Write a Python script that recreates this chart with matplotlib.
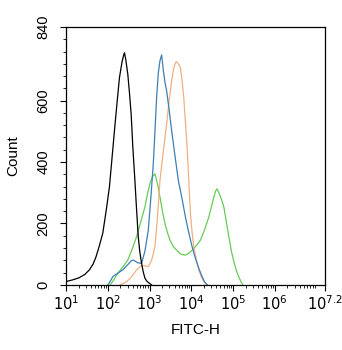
import numpy as np
import matplotlib
matplotlib.use('Agg')
import matplotlib.pyplot as plt
from matplotlib.ticker import FixedLocator, NullFormatter, MultipleLocator

plt.rcParams['font.family'] = ['Liberation Sans', 'DejaVu Sans']

# log10(FITC-H) positions and counts
black_x = [1.0, 1.15, 1.31, 1.45, 1.56, 1.65, 1.72, 1.80, 1.88, 1.96, 2.04, 2.10, 2.16, 2.22, 2.28, 2.34, 2.38, 2.40,
           2.43, 2.48, 2.52, 2.56, 2.60, 2.65, 2.69, 2.73, 2.77, 2.81, 2.85, 2.89, 2.93, 2.97, 3.05]
black_y = [11, 16, 23, 34, 49, 68, 92, 128, 168, 240, 319, 410, 502, 590, 675, 725, 748, 756,
           735, 686, 625, 556, 450, 340, 245, 157, 105, 70, 42, 22, 13, 8, 0]

blue_x = [2.0, 2.06, 2.12, 2.24, 2.36, 2.48, 2.56, 2.61, 2.66, 2.72, 2.81, 2.89, 2.97, 3.03, 3.09, 3.13, 3.17, 3.21,
          3.25, 3.29, 3.33, 3.37, 3.41, 3.47, 3.53, 3.61, 3.69, 3.78, 3.86, 3.94, 4.02, 4.08, 4.14, 4.20, 4.26, 4.32, 4.38]
blue_y = [0, 12, 27, 38, 49, 66, 78, 81, 77, 72, 70, 110, 178, 280, 394, 500, 610, 690,
          730, 749, 700, 660, 632, 570, 502, 420, 340, 280, 221, 170, 124, 95, 70, 47, 27, 10, 0]

orange_x = [2.3, 2.45, 2.58, 2.69, 2.80, 2.90, 2.97, 3.05, 3.13, 3.19, 3.25, 3.33, 3.41, 3.47, 3.53, 3.58, 3.62, 3.64,
            3.68, 3.74, 3.78, 3.82, 3.86, 3.90, 3.94, 3.98, 4.02, 4.06, 4.12, 4.18, 4.24, 4.30, 4.38]
orange_y = [0, 10, 28, 49, 62, 62, 59, 80, 124, 220, 340, 435, 524, 600, 665, 705, 722, 727,
            722, 708, 665, 610, 530, 449, 340, 232, 170, 124, 82, 49, 26, 10, 0]

green_x = [2.06, 2.15, 2.24, 2.36, 2.48, 2.58, 2.69, 2.79, 2.89, 2.95, 3.01, 3.07, 3.13, 3.19, 3.25, 3.31, 3.37, 3.43,
           3.49, 3.57, 3.65, 3.75, 3.86, 3.94, 4.02, 4.12, 4.22, 4.32, 4.42, 4.52, 4.58, 4.62, 4.66, 4.72, 4.78,
           4.84, 4.90, 4.96, 5.03, 5.09, 5.15, 5.23]
green_y = [0, 18, 38, 58, 81, 115, 157, 205, 254, 295, 330, 352, 362, 330, 286, 240, 200, 170,
           146, 125, 113, 100, 97, 103, 113, 128, 146, 180, 221, 275, 305, 313, 300, 280, 254,
           205, 157, 110, 70, 42, 22, 0]

xtick_pos = [1, 2, 3, 4, 5, 6, 7.2]
xtick_lab = [r'$10^{1}$', r'$10^{2}$', r'$10^{3}$', r'$10^{4}$', r'$10^{5}$', r'$10^{6}$', r'$10^{7.2}$']

fig = plt.figure(figsize=(3.42, 3.5), dpi=100)
ax = fig.add_axes([0.193, 0.186, 0.757, 0.737])

ax.plot(10**np.array(green_x), green_y, color='#66cc55', lw=0.9)
ax.plot(10**np.array(orange_x), orange_y, color='#f0b080', lw=0.9)
ax.plot(10**np.array(blue_x), blue_y, color='#3d7fb5', lw=0.9)
ax.plot(10**np.array(black_x), black_y, color='black', lw=0.9)

ax.set_xscale('log')
ax.set_xlim(10, 10**7.2)
ax.set_ylim(0, 840)
ax.xaxis.set_major_locator(FixedLocator([10**p for p in xtick_pos]))
ax.set_xticklabels(xtick_lab)
minors = [m * 10**d for d in range(1, 8) for m in range(2, 10) if m * 10**d < 10**7.2]
ax.xaxis.set_minor_locator(FixedLocator(minors))
ax.xaxis.set_minor_formatter(NullFormatter())
ax.set_yticks([0, 200, 400, 600, 840])
ax.yaxis.set_minor_locator(MultipleLocator(40))
ax.tick_params(axis='x', labelsize=10.5, length=4, width=0.8, pad=3)
ax.tick_params(axis='y', labelsize=10.5, length=4, width=0.8, labelrotation=90, pad=7)
for lbl in ax.get_yticklabels():
    lbl.set_va('center')
ax.tick_params(which='minor', length=2, width=0.6)
for s in ax.spines.values():
    s.set_linewidth(0.9)

ax.set_xlabel('FITC-H', fontsize=11, labelpad=7)
ax.set_ylabel('Count', fontsize=11, labelpad=12)

fig.savefig('out.png', dpi=100)
